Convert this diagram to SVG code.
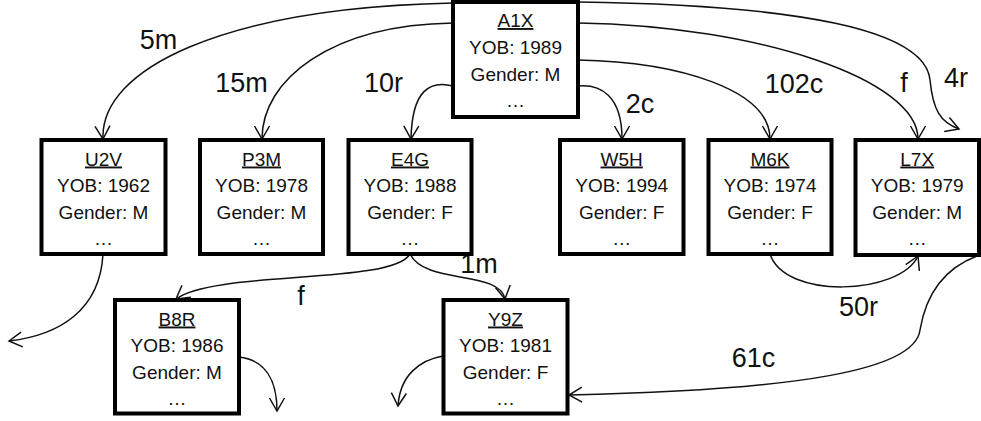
<svg xmlns="http://www.w3.org/2000/svg" width="981" height="421" viewBox="0 0 981 421">
<style>
  .box { fill: #fff; stroke: #000; stroke-width: 4; }
  .t { font-family: "Liberation Sans", Arial, sans-serif; font-size: 19px; fill: #111; text-anchor: middle; }
  .nm { text-decoration: underline; }
  .lbl { font-family: "Liberation Sans", Arial, sans-serif; font-size: 27px; fill: #111; text-anchor: middle; }
  .e { fill: none; stroke: #111; stroke-width: 1.5; marker-end: url(#ah); }
</style>
<defs>
  <marker id="ah" markerUnits="userSpaceOnUse" markerWidth="16" markerHeight="18" viewBox="0 0 16 18" refX="14" refY="9" orient="auto">
    <path d="M1,1.5 L14,9 L1,16.5" fill="none" stroke="#111" stroke-width="1.5"/>
  </marker>
</defs>
<rect width="981" height="421" fill="#fff"/>
<g id="connectors">
  <path class="e" d="M453,3 C 220,8 100,70 103,139"/>
  <path class="e" d="M453,23 C 330,25 262,80 262,139"/>
  <path class="e" d="M453,86 C 430,80 412,90 411,139"/>
  <path class="e" d="M578,86 C 600,84 622,95 622,139"/>
  <path class="e" d="M578,60 C 680,62 770,90 770,139"/>
  <path class="e" d="M578,23 C 760,26 918,80 918,139"/>
  <path class="e" d="M578,2 C 800,5 925,30 930,80 C 933,110 940,122 959,129"/>
  <path class="e" d="M103,254 C 100,310 60,335 9,341"/>
  <path class="e" d="M410,254 C 392,285 215,270 176,299"/>
  <path class="e" d="M410,254 C 425,285 500,270 505,299"/>
  <path class="e" d="M239,357 C 265,360 277,380 277,411"/>
  <path class="e" d="M443,356 C 420,360 400,375 398,406"/>
  <path class="e" d="M770,254 C 785,300 900,295 918,256"/>
  <path class="e" d="M977,256 C 940,270 925,300 920,330 C 915,370 800,390 569,395"/>
</g>
<g id="labels">
  <text class="lbl" x="158.5" y="49">5m</text>
  <text class="lbl" x="241.5" y="92">15m</text>
  <text class="lbl" x="383.5" y="92">10r</text>
  <text class="lbl" x="640" y="113">2c</text>
  <text class="lbl" x="794" y="93">102c</text>
  <text class="lbl" x="904" y="92">f</text>
  <text class="lbl" x="956" y="87">4r</text>
  <text class="lbl" x="301" y="305">f</text>
  <text class="lbl" x="479" y="273">1m</text>
  <text class="lbl" x="858.5" y="316">50r</text>
  <text class="lbl" x="753.5" y="367">61c</text>
</g>
<g id="A1X">
  <rect class="box" x="453" y="2" width="125" height="115"/>
  <text class="t nm" x="515.5" y="27">A1X</text>
  <text class="t" x="515.5" y="53.5">YOB: 1989</text>
  <text class="t" x="515.5" y="80.5">Gender: M</text>
  <text class="t" x="515.5" y="106.5">…</text>
</g>
<g id="U2V">
  <rect class="box" x="41.5" y="140" width="124" height="114"/>
  <text class="t nm" x="103.5" y="165.5">U2V</text>
  <text class="t" x="103.5" y="192">YOB: 1962</text>
  <text class="t" x="103.5" y="219">Gender: M</text>
  <text class="t" x="103.5" y="245">…</text>
</g>
<g id="P3M">
  <rect class="box" x="200" y="140" width="123" height="114"/>
  <text class="t nm" x="261.5" y="165.5">P3M</text>
  <text class="t" x="261.5" y="192">YOB: 1978</text>
  <text class="t" x="261.5" y="219">Gender: M</text>
  <text class="t" x="261.5" y="245">…</text>
</g>
<g id="E4G">
  <rect class="box" x="348.5" y="140" width="123" height="114"/>
  <text class="t nm" x="410" y="165.5">E4G</text>
  <text class="t" x="410" y="192">YOB: 1988</text>
  <text class="t" x="410" y="219">Gender: F</text>
  <text class="t" x="410" y="245">…</text>
</g>
<g id="W5H">
  <rect class="box" x="560" y="140" width="123.5" height="114"/>
  <text class="t nm" x="621.7" y="165.5">W5H</text>
  <text class="t" x="621.7" y="192">YOB: 1994</text>
  <text class="t" x="621.7" y="219">Gender: F</text>
  <text class="t" x="621.7" y="245">…</text>
</g>
<g id="M6K">
  <rect class="box" x="708.5" y="140" width="123" height="114"/>
  <text class="t nm" x="770" y="165.5">M6K</text>
  <text class="t" x="770" y="192">YOB: 1974</text>
  <text class="t" x="770" y="219">Gender: F</text>
  <text class="t" x="770" y="245">…</text>
</g>
<g id="L7X">
  <rect class="box" x="855.5" y="140" width="123.5" height="115"/>
  <text class="t nm" x="917.2" y="165.5">L7X</text>
  <text class="t" x="917.2" y="192">YOB: 1979</text>
  <text class="t" x="917.2" y="219">Gender: M</text>
  <text class="t" x="917.2" y="245">…</text>
</g>
<g id="B8R">
  <rect class="box" x="115" y="300" width="124" height="113.5"/>
  <text class="t nm" x="177" y="325.5">B8R</text>
  <text class="t" x="177" y="352">YOB: 1986</text>
  <text class="t" x="177" y="379">Gender: M</text>
  <text class="t" x="177" y="405">…</text>
</g>
<g id="Y9Z">
  <rect class="box" x="443.5" y="300" width="124" height="113.5"/>
  <text class="t nm" x="505.5" y="325.5">Y9Z</text>
  <text class="t" x="505.5" y="352">YOB: 1981</text>
  <text class="t" x="505.5" y="379">Gender: F</text>
  <text class="t" x="505.5" y="405">…</text>
</g>
</svg>
